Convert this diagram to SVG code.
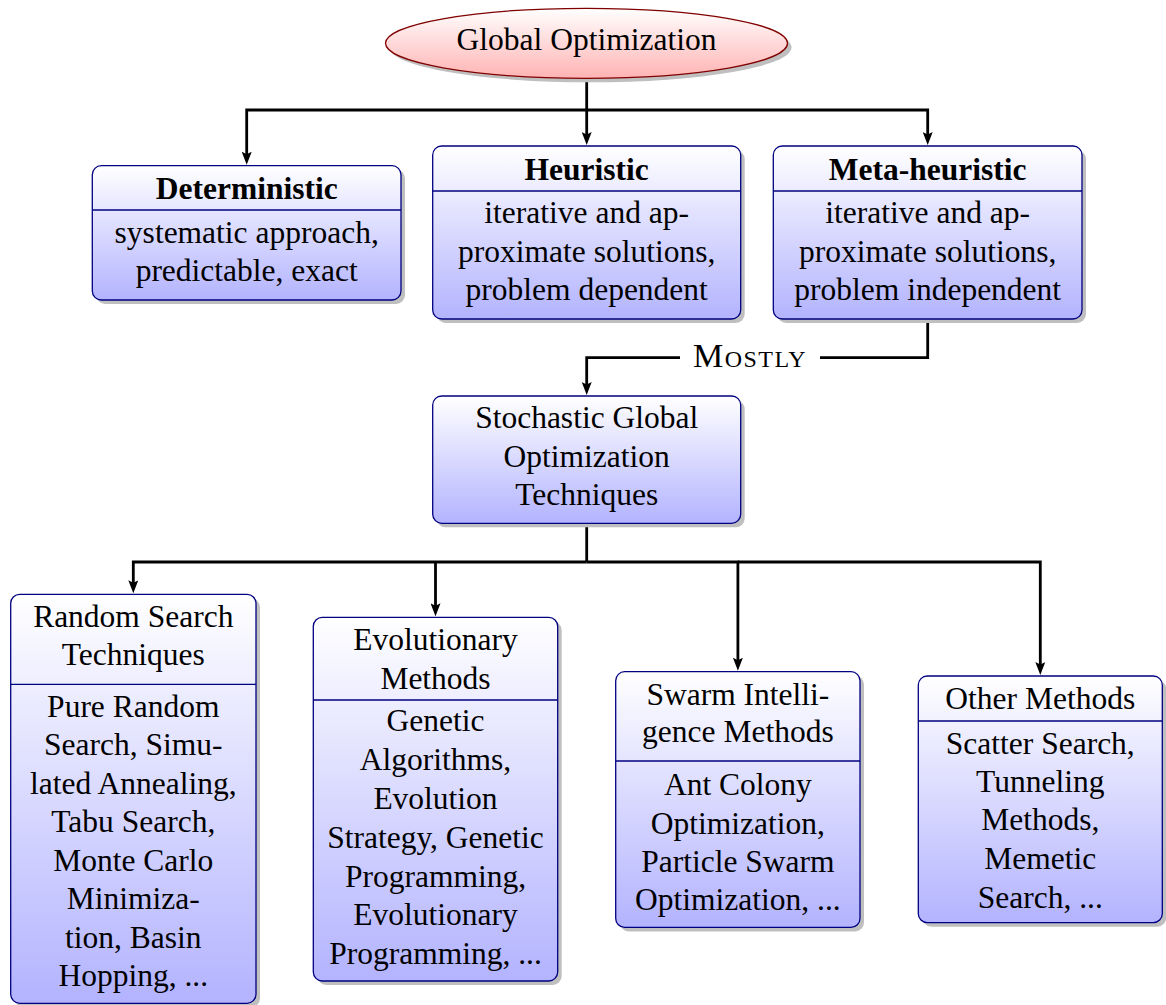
<svg xmlns="http://www.w3.org/2000/svg" width="1166" height="1005" viewBox="0 0 1166 1005">
  <defs>
    <linearGradient id="boxFill" x1="0" y1="0" x2="0" y2="1">
      <stop offset="0" stop-color="#ffffff"/>
      <stop offset="1" stop-color="#b3b3ff"/>
    </linearGradient>
    <linearGradient id="rootFill" x1="0" y1="0" x2="0" y2="1">
      <stop offset="0" stop-color="#ffffff"/>
      <stop offset="1" stop-color="#ffb3b3"/>
    </linearGradient>
    <marker id="arrow" markerUnits="userSpaceOnUse" viewBox="0 0 13 10" refX="6" refY="5" markerWidth="13" markerHeight="10" orient="auto">
      <path d="M0,0 L13,5 L0,10 L2.5,5 Z" fill="#000"/>
    </marker>
    <style>
      .box { fill: url(#boxFill); stroke: #000080; stroke-width: 1.3; }
      .shadow { fill: #bfbfbf; }
      .div { stroke: #000080; stroke-width: 1.3; }
      .t { font-family: "Liberation Serif", "Times New Roman", serif; font-size: 31.5px; fill: #000; text-anchor: middle; }
      .b { font-weight: bold; }
      .sc { font-size: 34px; font-variant: small-caps; letter-spacing: 1.5px; }
      .wire { fill: none; stroke: #000; stroke-width: 2.8; marker-end: url(#arrow); }
      .plain { fill: none; stroke: #000; stroke-width: 2.8; }
    </style>
  </defs>

  <!-- connectors -->
  <g id="connectors">
    <path class="wire" d="M586.7,78 V110 H246.7 V157.7"/>
    <path class="wire" d="M586.7,110 V138"/>
    <path class="wire" d="M586.7,110 H927.7 V138"/>
    <path class="wire" d="M927.7,319 V357.7 H586.7 V388"/>
    <rect x="680" y="340" width="140" height="36" fill="#ffffff"/>
    <text class="t sc" x="750" y="367">Mostly</text>
    <path class="plain" d="M586.7,523 V562"/>
    <path class="wire" d="M586.7,562 H133.3 V586.3"/>
    <path class="wire" d="M435.5,562 V609.3"/>
    <path class="wire" d="M586.7,562 H737.9 V663.7"/>
    <path class="wire" d="M737.9,562 H1040.3 V668"/>
  </g>

  <!-- root -->
  <g id="global-optimization">
    <ellipse cx="590.5" cy="47.3" rx="201" ry="35" class="shadow"/>
    <ellipse cx="586.5" cy="43.3" rx="201" ry="35" fill="url(#rootFill)" stroke="#800000" stroke-width="1.3"/>
    <text class="t" x="586.5" y="50">Global Optimization</text>
  </g>

  <g id="deterministic">
    <rect class="shadow" x="96.3" y="169.7" width="308.7" height="134.3" rx="9"/>
    <rect class="box" x="92.3" y="165.7" width="308.7" height="134.3" rx="9"/>
    <line class="div" x1="92.3" y1="210" x2="401" y2="210"/>
    <text class="t b" x="246.7" y="199.3">Deterministic</text>
    <text class="t" x="246.7" y="242.5">systematic approach,</text>
    <text class="t" x="246.7" y="281">predictable, exact</text>
  </g>

  <g id="heuristic">
    <rect class="shadow" x="436.7" y="150" width="308" height="173" rx="9"/>
    <rect class="box" x="432.7" y="146" width="308" height="173" rx="9"/>
    <line class="div" x1="432.7" y1="191" x2="740.7" y2="191"/>
    <text class="t b" x="586.7" y="179.5">Heuristic</text>
    <text class="t" x="586.7" y="223">iterative and ap-</text>
    <text class="t" x="586.7" y="261.5">proximate solutions,</text>
    <text class="t" x="586.7" y="300">problem dependent</text>
  </g>

  <g id="meta-heuristic">
    <rect class="shadow" x="777.3" y="150" width="308.7" height="173" rx="9"/>
    <rect class="box" x="773.3" y="146" width="308.7" height="173" rx="9"/>
    <line class="div" x1="773.3" y1="191" x2="1082" y2="191"/>
    <text class="t b" x="927.7" y="179.5">Meta-heuristic</text>
    <text class="t" x="927.7" y="223">iterative and ap-</text>
    <text class="t" x="927.7" y="261.5">proximate solutions,</text>
    <text class="t" x="927.7" y="300">problem independent</text>
  </g>

  <g id="stochastic">
    <rect class="shadow" x="436.7" y="400" width="308" height="127.3" rx="9"/>
    <rect class="box" x="432.7" y="396" width="308" height="127.3" rx="9"/>
    <text class="t" x="586.7" y="428">Stochastic Global</text>
    <text class="t" x="586.7" y="466.7">Optimization</text>
    <text class="t" x="586.7" y="505">Techniques</text>
  </g>

  <g id="random-search">
    <rect class="shadow" x="14.7" y="598.3" width="245.3" height="409" rx="9"/>
    <rect class="box" x="10.7" y="594.3" width="245.3" height="409" rx="9"/>
    <line class="div" x1="10.7" y1="684.3" x2="256" y2="684.3"/>
    <text class="t" x="133.3" y="627">Random Search</text>
    <text class="t" x="133.3" y="665">Techniques</text>
    <text class="t" x="133.3" y="716.5">Pure Random</text>
    <text class="t" x="133.3" y="755">Search, Simu-</text>
    <text class="t" x="133.3" y="793.5">lated Annealing,</text>
    <text class="t" x="133.3" y="832">Tabu Search,</text>
    <text class="t" x="133.3" y="870.5">Monte Carlo</text>
    <text class="t" x="133.3" y="909">Minimiza-</text>
    <text class="t" x="133.3" y="947.5">tion, Basin</text>
    <text class="t" x="133.3" y="986">Hopping, ...</text>
  </g>

  <g id="evolutionary">
    <rect class="shadow" x="317.3" y="621.3" width="244.4" height="363.7" rx="9"/>
    <rect class="box" x="313.3" y="617.3" width="244.4" height="363.7" rx="9"/>
    <line class="div" x1="313.3" y1="700" x2="557.7" y2="700"/>
    <text class="t" x="435.5" y="650">Evolutionary</text>
    <text class="t" x="435.5" y="688.5">Methods</text>
    <text class="t" x="435.5" y="731">Genetic</text>
    <text class="t" x="435.5" y="770">Algorithms,</text>
    <text class="t" x="435.5" y="809">Evolution</text>
    <text class="t" x="435.5" y="848">Strategy, Genetic</text>
    <text class="t" x="435.5" y="886.5">Programming,</text>
    <text class="t" x="435.5" y="925">Evolutionary</text>
    <text class="t" x="435.5" y="963.5">Programming, ...</text>
  </g>

  <g id="swarm">
    <rect class="shadow" x="619.7" y="675.7" width="244.3" height="255.7" rx="9"/>
    <rect class="box" x="615.7" y="671.7" width="244.3" height="255.7" rx="9"/>
    <line class="div" x1="615.7" y1="761" x2="860" y2="761"/>
    <text class="t" x="737.9" y="705">Swarm Intelli-</text>
    <text class="t" x="737.9" y="742">gence Methods</text>
    <text class="t" x="737.9" y="795">Ant Colony</text>
    <text class="t" x="737.9" y="833.5">Optimization,</text>
    <text class="t" x="737.9" y="872">Particle Swarm</text>
    <text class="t" x="737.9" y="910">Optimization, ...</text>
  </g>

  <g id="other">
    <rect class="shadow" x="922.3" y="680" width="244" height="246.7" rx="9"/>
    <rect class="box" x="918.3" y="676" width="244" height="246.7" rx="9"/>
    <line class="div" x1="918.3" y1="721" x2="1162.3" y2="721"/>
    <text class="t" x="1040.3" y="708.5">Other Methods</text>
    <text class="t" x="1040.3" y="753.5">Scatter Search,</text>
    <text class="t" x="1040.3" y="792">Tunneling</text>
    <text class="t" x="1040.3" y="830">Methods,</text>
    <text class="t" x="1040.3" y="868.5">Memetic</text>
    <text class="t" x="1040.3" y="908">Search, ...</text>
  </g>
</svg>
